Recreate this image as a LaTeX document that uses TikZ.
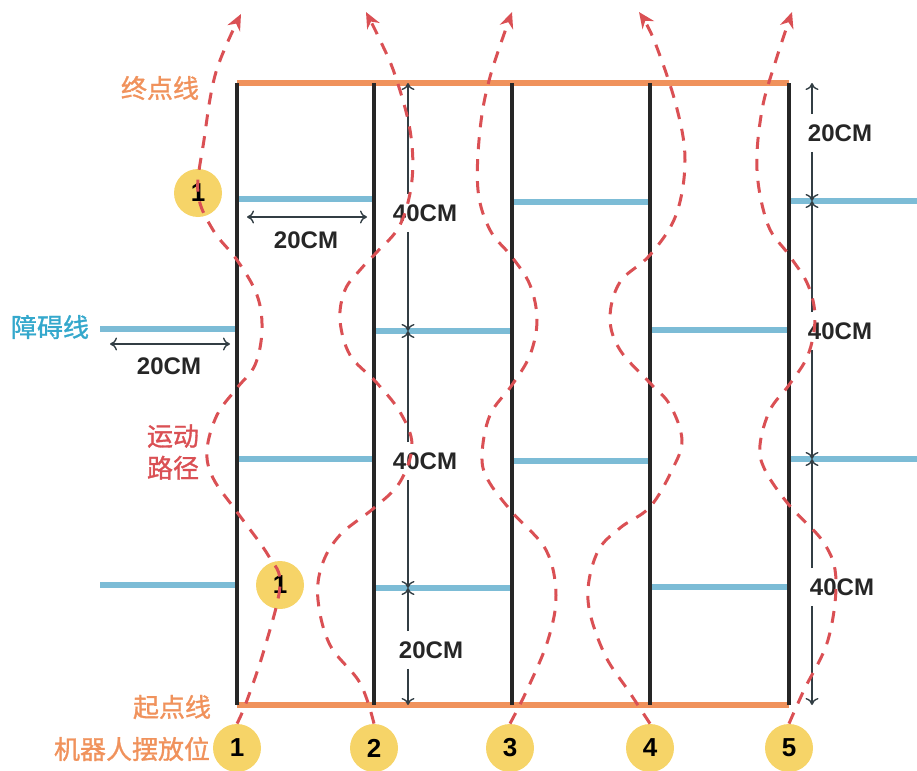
\documentclass[tikz,border=0pt]{standalone}
\usepackage{fontspec}
\setmainfont{Liberation Sans}
\newfontfamily\cjk[FakeBold=1.2]{Noto Sans CJK SC}
\usetikzlibrary{arrows.meta}

\definecolor{lineOrange}{RGB}{240,146,92}
\definecolor{obstBlue}{RGB}{124,188,214}
\definecolor{textBlue}{RGB}{52,168,204}
\definecolor{pathRed}{RGB}{218,80,84}
\definecolor{spotYellow}{RGB}{246,212,104}
\definecolor{laneBlack}{RGB}{38,38,38}
\definecolor{dimGray}{RGB}{50,62,68}

\begin{document}
\begin{tikzpicture}[x=0.5pt, y=-0.5pt,
  lane/.style={laneBlack, line width=2pt},
  goal/.style={lineOrange, line width=3pt},
  obstacle/.style={obstBlue, line width=3pt},
  route/.style={pathRed, line width=1.5pt, dash pattern=on 6pt off 5pt, -{Stealth[length=8pt,width=7pt]}},
  dimarrow/.style={dimGray, line width=0.7pt, shorten <=3pt, -{To[length=3.5pt,width=6.5pt]}},
  dimboth/.style={dimGray, line width=0.7pt, {To[length=3.5pt,width=6.5pt]}-{To[length=3.5pt,width=6.5pt]}},
  spot/.style={circle, fill=spotYellow, minimum size=24pt, inner sep=0pt, font=\bfseries\fontsize{13}{13}\selectfont},
  dimtext/.style={font=\bfseries\fontsize{12}{12}\selectfont, text=black!85, inner sep=2pt},
  cntext/.style={font=\cjk\fontsize{13}{16}\selectfont, align=center}]
  \useasboundingbox (0,0) rectangle (917,771);
  % \draw[step=100,thin,gray!40] (0,0) grid (917,771);

  \coordinate (t1) at (237,83);  \coordinate (b1) at (237,705);
  \coordinate (t2) at (374,83);  \coordinate (b2) at (374,705);
  \coordinate (t3) at (512,83);  \coordinate (b3) at (512,705);
  \coordinate (t4) at (650,83);  \coordinate (b4) at (650,705);
  \coordinate (t5) at (789,83);  \coordinate (b5) at (789,705);

  % start and finish lines
  \draw[goal] (t1) -- (t5);
  \draw[goal] (b1) -- (b5);

  % obstacles
  \draw[obstacle] (237,199) -- (374,199);
  \draw[obstacle] (512,202) -- (650,202);
  \draw[obstacle] (789,201) -- (917,201);
  \draw[obstacle] (100,329) -- (237,329);
  \draw[obstacle] (374,331) -- (512,331);
  \draw[obstacle] (650,330) -- (789,330);
  \draw[obstacle] (237,459) -- (374,459);
  \draw[obstacle] (512,461) -- (650,461);
  \draw[obstacle] (789,459) -- (917,459);
  \draw[obstacle] (100,585) -- (237,585);
  \draw[obstacle] (374,588) -- (512,588);
  \draw[obstacle] (650,587) -- (789,587);

  % lanes
  \draw[lane] (t1) -- (b1);
  \draw[lane] (t2) -- (b2);
  \draw[lane] (t3) -- (b3);
  \draw[lane] (t4) -- (b4);
  \draw[lane] (t5) -- (b5);

  % labels
  \node[cntext, text=lineOrange] (finishLbl) at (160,88) {终点线};
  \node[cntext, text=textBlue] (obstLbl) at (50,327) {障碍线};
  \node[cntext, text=pathRed] (routeLbl) at (173,452) {运动\\路径};
  \node[cntext, text=lineOrange] (startLbl) at (172,707) {起点线};
  \node[cntext, text=lineOrange] (placeLbl) at (132,749) {机器人摆放位};

  % dimensions
  \coordinate (topDimA) at (247,217);  \coordinate (topDimB) at (367,217);
  \coordinate (leftDimA) at (110,344); \coordinate (leftDimB) at (230,344);
  \draw[dimboth] (topDimA) -- (topDimB);
  \node[dimtext] (topDim) at (306,240) {20CM};
  \draw[dimboth] (leftDimA) -- (leftDimB);
  \node[dimtext] (leftDim) at (169,366) {20CM};

  \coordinate (m0) at (408,83);  \coordinate (m1) at (408,331);
  \coordinate (m2) at (408,588); \coordinate (m3) at (408,705);
  \node[dimtext] (midA) at (425,213) {40CM};
  \node[dimtext] (midB) at (425,461) {40CM};
  \node[dimtext] (midC) at (431,650) {20CM};
  \draw[dimarrow] (midA.north -| m0) -- (m0);
  \draw[dimarrow] (midA.south -| m1) -- (m1);
  \draw[dimarrow] (midB.north -| m1) -- (m1);
  \draw[dimarrow] (midB.south -| m2) -- (m2);
  \draw[dimarrow] (midC.north -| m2) -- (m2);
  \draw[dimarrow] (midC.south -| m3) -- (m3);

  \coordinate (s0) at (812,83);  \coordinate (s1) at (812,201);
  \coordinate (s2) at (812,459); \coordinate (s3) at (812,705);
  \node[dimtext] (sideA) at (840,133) {20CM};
  \node[dimtext] (sideB) at (840,331) {40CM};
  \node[dimtext] (sideC) at (842,587) {40CM};
  \draw[dimarrow] (sideA.north -| s0) -- (s0);
  \draw[dimarrow] (sideA.south -| s1) -- (s1);
  \draw[dimarrow] (sideB.north -| s1) -- (s1);
  \draw[dimarrow] (sideB.south -| s2) -- (s2);
  \draw[dimarrow] (sideC.north -| s2) -- (s2);
  \draw[dimarrow] (sideC.south -| s3) -- (s3);

  % robot spots
  \node[spot] (r1) at (237,748) {1};
  \node[spot] (r2) at (374,748) {2};
  \node[spot] (r3) at (510,748) {3};
  \node[spot] (r4) at (650,748) {4};
  \node[spot] (r5) at (789,748) {5};
  \node[spot] (c1) at (198,193) {1};
  \node[spot] (c2) at (280,585) {1};

  % routes
  \draw[route] plot[smooth, tension=0.6] coordinates {(r1.north) (246,703) (264,650) (c2) (268,555) (237,512) (213,478) (207,450) (217,415) (237,388) (255,365) (262,330) (257,295) (237,260) (213,230) (c1) (204,140) (216,72) (241,14)};
  \draw[route] plot[smooth, tension=0.6] coordinates {(r2.north) (360,683) (330,645) (318,600) (322,565) (340,535) (374,508) (400,482) (412,445) (400,412) (376,382) (350,355) (340,320) (345,290) (360,270) (376,253) (400,225) (412,180) (410,130) (395,75) (380,40) (366,12)};
  \draw[route] plot[smooth, tension=0.6] coordinates {(r3.north) (527,690) (548,640) (556,595) (546,550) (512,512) (488,480) (482,455) (490,415) (512,385) (530,355) (537,320) (530,285) (512,257) (490,230) (478,190) (480,130) (490,77) (512,12)};
  \draw[route] plot[smooth, tension=0.6] coordinates {(r4.north) (630,693) (604,653) (588,600) (597,553) (620,528) (650,507) (672,470) (682,440) (670,405) (650,383) (620,350) (610,318) (620,282) (650,255) (676,215) (685,160) (676,105) (654,40) (639,12)};
  \draw[route] plot[smooth, tension=0.6] coordinates {(r5.north) (804,690) (828,640) (836,580) (824,543) (789,505) (765,470) (760,445) (770,410) (789,385) (808,355) (815,318) (808,285) (789,255) (768,225) (757,170) (762,110) (776,60) (792,12)};
\end{tikzpicture}
\end{document}
